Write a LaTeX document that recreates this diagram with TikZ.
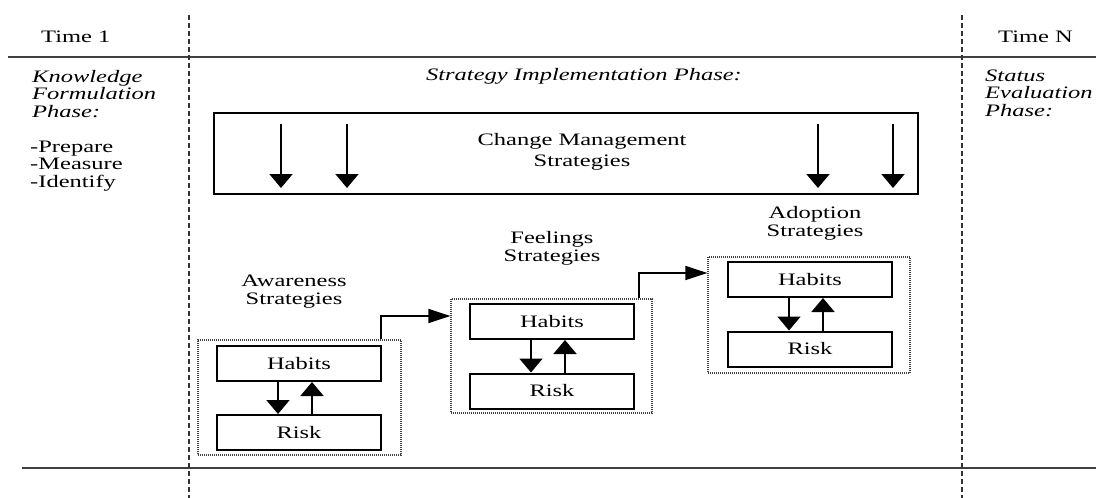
\documentclass[tikz,border=0pt]{standalone}
\usepackage{fontspec}
\setmainfont{Liberation Serif}[FakeStretch=1.4]
\usetikzlibrary{arrows.meta}

\tikzset{
  lbl/.style={font=\fontsize{17.5}{18}\selectfont, inner sep=0pt, align=center},
  lbll/.style={font=\fontsize{17.5}{17.5}\selectfont, inner sep=0pt, align=left},
  hrbox/.style={draw, line width=2pt, minimum width=164pt, minimum height=35pt,
    inner sep=0pt, font=\fontsize{17.5}{18}\selectfont},
  grpbox/.style={draw=black!75, line width=1.2pt, dash pattern=on 1pt off 1pt, inner sep=0pt},
  vline/.style={draw=black!80, line width=1.3pt, dash pattern=on 5pt off 3pt},
  hline/.style={draw=black!75, line width=1.6pt},
  varrow/.style={line width=2pt, -{Triangle[width=23pt, length=14pt]}},
  harrow/.style={line width=1.6pt, -{Triangle[width=14pt, length=22pt]}},
}

\begin{document}
\begin{tikzpicture}[x=1pt, y=-1pt]
  \useasboundingbox (0,0) rectangle (1096,498);

  % time axis frame
  \draw[hline] (8,57) -- (1096,57);
  \draw[hline, line width=2.2pt] (22,468) -- (1096,468);
  \draw[vline] (189,15) -- (189,498);
  \draw[vline] (962,15) -- (962,498);

  % column headings (multi-line labels are placed by their last baseline)
  \node[lbl, anchor=base west] (t1) at (41,42) {Time 1};
  \node[lbl, anchor=base west] (tn) at (998,42) {Time N};

  \node[lbll, anchor=base west, font=\fontsize{17.5}{17.5}\selectfont\itshape] (kf)
    at (32,117) {Knowledge\\Formulation\\Phase:};
  \node[lbll, anchor=base west] (steps) at (30,187) {-Prepare\\-Measure\\-Identify};
  \node[lbll, anchor=base west, font=\fontsize{17.5}{17.5}\selectfont\itshape] (se)
    at (985,116) {Status\\Evaluation\\Phase:};
  \node[lbl, anchor=base, font=\fontsize{17.5}{18}\selectfont\itshape] (sip)
    at (584,80) {Strategy Implementation Phase:};

  % change management strategies bar
  \node[draw, line width=2pt, minimum width=704pt, minimum height=81pt, inner sep=0pt]
    (cm) at (566,153.5) {};
  \node[lbl, anchor=base, font=\fontsize{17.5}{21}\selectfont] (cmt) at (582,166)
    {Change Management\\Strategies};
  \foreach \dx in {-285,-219,252,327}
    \draw[varrow] ([xshift=\dx pt, yshift=-12pt]cm.north) -- ([xshift=\dx pt, yshift=7pt]cm.south);

  % strategy groups
  \node[lbl, anchor=base] (aw) at (294,304) {Awareness\\Strategies};
  \node[grpbox, minimum width=203pt, minimum height=115pt] (g1) at (299.5,397.5) {};
  \node[hrbox] (h1) at (299,363.5) {Habits};
  \node[hrbox] (r1) at (299,432.5) {Risk};

  \node[lbl, anchor=base] (fe) at (552,261) {Feelings\\Strategies};
  \node[grpbox, minimum width=201pt, minimum height=114pt] (g2) at (551.5,356) {};
  \node[hrbox] (h2) at (552,321.5) {Habits};
  \node[hrbox] (r2) at (552,391) {Risk};

  \node[lbl, anchor=base] (ad) at (815,236) {Adoption\\Strategies};
  \node[grpbox, minimum width=202pt, minimum height=116pt] (g3) at (809,315) {};
  \node[hrbox] (h3) at (810,279.5) {Habits};
  \node[hrbox] (r3) at (810,349) {Risk};

  % habits / risk feedback
  \foreach \h/\r in {h1/r1, h2/r2, h3/r3} {
    \draw[varrow] ([xshift=-21pt]\h.south) -- ([xshift=-21pt]\r.north);
    \draw[varrow] ([xshift=13pt]\r.north) -- ([xshift=13pt]\h.south);
  }

  % progression between groups
  \draw[harrow] ([xshift=81.5pt]g1.north) |- ([yshift=40pt]g2.west);
  \draw[harrow] ([xshift=87.5pt]g2.north) |- ([yshift=42pt]g3.west);
\end{tikzpicture}
\end{document}
